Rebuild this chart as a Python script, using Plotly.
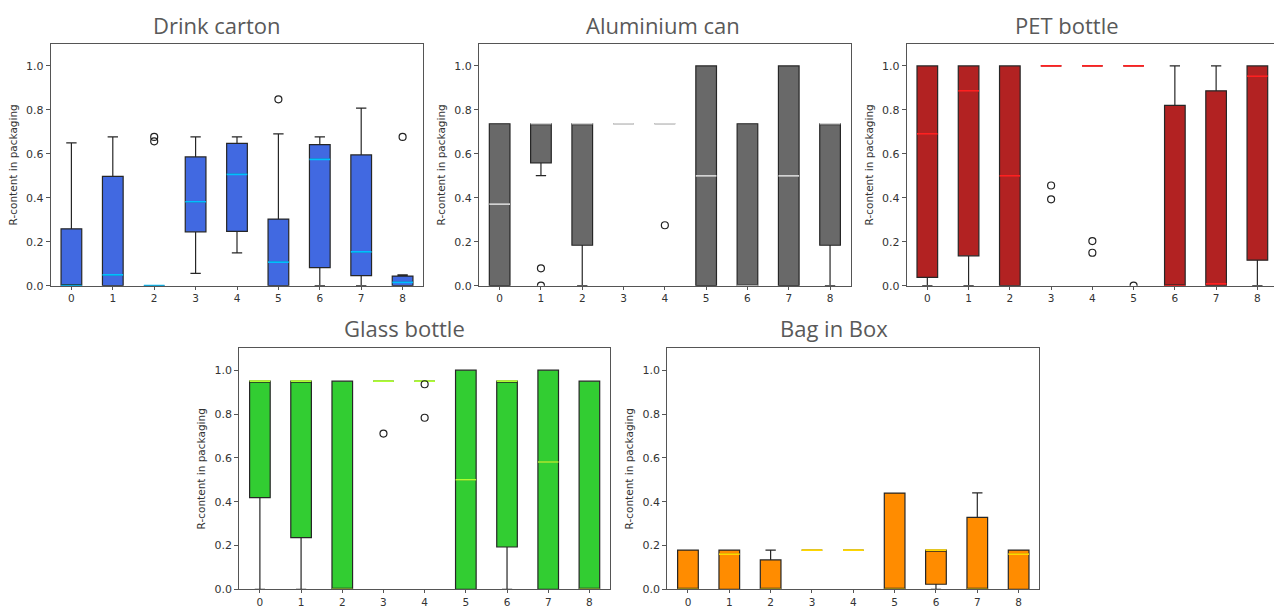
import plotly.graph_objects as go

cats = [0, 1, 2, 3, 4, 5, 6, 7, 8]
y_ticks = [0.0, 0.2, 0.4, 0.6, 0.8, 1.0]
y_label = "R-content in packaging"

titles = ["Drink carton", "Aluminium can", "PET bottle", "Glass bottle", "Bag in Box"]

# Drink carton
carton_q1 = [0.0, 0.0, 0.0, 0.245, 0.247, 0.0, 0.082, 0.046, 0.0]
carton_med = [0.0, 0.049, 0.0, 0.382, 0.507, 0.107, 0.575, 0.154, 0.015]
carton_q3 = [0.259, 0.498, 0.0, 0.586, 0.648, 0.303, 0.642, 0.595, 0.044]
carton_lo = [0.0, 0.0, 0.0, 0.056, 0.149, 0.0, 0.0, 0.0, 0.0]
carton_hi = [0.65, 0.677, 0.0, 0.677, 0.677, 0.691, 0.677, 0.808, 0.049]
carton_out_x = [2, 2, 5, 8]
carton_out_y = [0.677, 0.657, 0.848, 0.677]

# Aluminium can
alu_q1 = [0.0, 0.559, 0.184, 0.737, 0.737, 0.0, 0.0, 0.0, 0.184]
alu_med = [0.371, 0.737, 0.737, 0.737, 0.737, 0.5, 0.0, 0.5, 0.737]
alu_q3 = [0.737, 0.737, 0.737, 0.737, 0.737, 1.0, 0.737, 1.0, 0.737]
alu_lo = [0.0, 0.501, 0.0, 0.737, 0.737, 0.0, 0.0, 0.0, 0.0]
alu_hi = [0.737, 0.737, 0.737, 0.737, 0.737, 1.0, 0.737, 1.0, 0.737]
alu_out_x = [1, 1, 4]
alu_out_y = [0.079, 0.0, 0.275]

# PET bottle
pet_q1 = [0.038, 0.136, 0.0, 1.0, 1.0, 1.0, 0.0, 0.0, 0.116]
pet_med = [0.691, 0.887, 0.5, 1.0, 1.0, 1.0, 0.0, 0.008, 0.954]
pet_q3 = [1.0, 1.0, 1.0, 1.0, 1.0, 1.0, 0.821, 0.887, 1.0]
pet_lo = [0.0, 0.0, 0.0, 1.0, 1.0, 1.0, 0.0, 0.0, 0.0]
pet_hi = [1.0, 1.0, 1.0, 1.0, 1.0, 1.0, 1.0, 1.0, 1.0]
pet_out_x = [3, 3, 4, 4, 5]
pet_out_y = [0.456, 0.393, 0.203, 0.150, 0.0]

# Glass bottle
glass_q1 = [0.418, 0.236, 0.0, 0.95, 0.95, 0.0, 0.193, 0.0, 0.0]
glass_med = [0.95, 0.95, 0.0, 0.95, 0.95, 0.5, 0.95, 0.581, 0.0]
glass_q3 = [0.95, 0.95, 0.95, 0.95, 0.95, 1.0, 0.95, 1.0, 0.95]
glass_lo = [0.0, 0.0, 0.0, 0.95, 0.95, 0.0, 0.0, 0.0, 0.0]
glass_hi = [0.95, 0.95, 0.95, 0.95, 0.95, 1.0, 0.95, 1.0, 0.95]
glass_out_x = [3, 4, 4]
glass_out_y = [0.711, 0.936, 0.783]

# Bag in Box
bag_q1 = [0.0, 0.0, 0.0, 0.179, 0.179, 0.0, 0.023, 0.0, 0.0]
bag_med = [0.0, 0.161, 0.0, 0.179, 0.179, 0.0, 0.179, 0.0, 0.161]
bag_q3 = [0.179, 0.179, 0.134, 0.179, 0.179, 0.439, 0.179, 0.328, 0.179]
bag_lo = [0.0, 0.0, 0.0, 0.179, 0.179, 0.0, 0.0, 0.0, 0.0]
bag_hi = [0.179, 0.179, 0.179, 0.179, 0.179, 0.439, 0.179, 0.44, 0.179]
bag_out_x = []
bag_out_y = []

fill_colors = ["#4169E1", "#696969", "#B22222", "#32CD32", "#FF8C00"]
median_colors = ["#00BFFF", "#D3D3D3", "#FF2020", "#ADFF2F", "#FFD700"]

W, H = 1274, 608
# axes pixel boxes (left, right, top, bottom)
boxes_px = [
    (50.7, 423.3, 44, 285.7),
    (479, 850.7, 44, 285.7),
    (906.7, 1274, 44, 285.7),
    (239.3, 610, 348.3, 589.3),
    (667.3, 1039.3, 348.3, 589.3),
]
x_ranges = [[-0.5, 8.5], [-0.5, 8.5], [-0.5, 8.403], [-0.5, 8.5], [-0.5, 8.5]]
title_px = [(216.5, 25), (663, 25), (1067, 25), (405, 328), (834, 328)]

datasets = [
    (carton_q1, carton_med, carton_q3, carton_lo, carton_hi, carton_out_x, carton_out_y),
    (alu_q1, alu_med, alu_q3, alu_lo, alu_hi, alu_out_x, alu_out_y),
    (pet_q1, pet_med, pet_q3, pet_lo, pet_hi, pet_out_x, pet_out_y),
    (glass_q1, glass_med, glass_q3, glass_lo, glass_hi, glass_out_x, glass_out_y),
    (bag_q1, bag_med, bag_q3, bag_lo, bag_hi, bag_out_x, bag_out_y),
]

fig = go.Figure()
layout = dict(
    width=W, height=H, autosize=False,
    margin=dict(l=0, r=0, t=0, b=0, pad=0, autoexpand=False),
    paper_bgcolor="white", plot_bgcolor="white",
    showlegend=False, boxmode="overlay",
    font=dict(family="DejaVu Sans", color="#333333"),
)
annotations = []

for i, (q1, med, q3, lo, hi, ox, oy) in enumerate(datasets):
    n = "" if i == 0 else str(i + 1)
    xa, ya = "x" + n, "y" + n
    fig.add_trace(go.Box(
        x=cats, q1=q1, median=med, q3=q3, lowerfence=lo, upperfence=hi,
        width=0.5, whiskerwidth=0.5, fillcolor=fill_colors[i],
        line=dict(color="#262626", width=1.2), boxpoints=False,
        hoverinfo="skip", xaxis=xa, yaxis=ya,
    ))
    fig.add_trace(go.Box(
        x=cats, q1=med, median=med, q3=med, lowerfence=med, upperfence=med,
        width=0.5, whiskerwidth=0.5, fillcolor="rgba(0,0,0,0)",
        line=dict(color=median_colors[i], width=1.7), boxpoints=False,
        hoverinfo="skip", xaxis=xa, yaxis=ya,
    ))
    if ox:
        fig.add_trace(go.Scatter(
            x=ox, y=oy, mode="markers",
            marker=dict(symbol="circle-open", size=7, color="#222222", line=dict(width=1.2)),
            hoverinfo="skip", xaxis=xa, yaxis=ya,
        ))
    l, r, t, b = boxes_px[i]
    layout["xaxis" + n] = dict(
        domain=[l / W, min(r / W, 1.0)], range=x_ranges[i], anchor=ya,
        automargin=False,
        tickmode="array", tickvals=cats, ticktext=[str(c) for c in cats],
        showline=True, mirror=True, linecolor="#555555", linewidth=1,
        ticks="outside", ticklen=3, tickcolor="#555555",
        tickfont=dict(size=10.5, color="#333333"),
        showgrid=False, zeroline=False,
    )
    layout["yaxis" + n] = dict(
        domain=[1 - b / H, 1 - t / H], range=[0, 1.1], anchor=xa,
        automargin=False,
        tickmode="array", tickvals=y_ticks, ticktext=[f"{v:.1f}" for v in y_ticks],
        showline=True, mirror=True, linecolor="#555555", linewidth=1,
        ticks="outside", ticklen=4, tickcolor="#555555",
        tickfont=dict(size=11, color="#333333"),
        showgrid=False, zeroline=False,
        title=dict(text=y_label, font=dict(size=10.5, color="#333333"), standoff=6),
    )
    cx, cy = title_px[i]
    annotations.append(dict(
        text=titles[i], xref="paper", yref="paper", x=cx / W, y=1 - cy / H,
        xanchor="center", yanchor="middle", showarrow=False,
        font=dict(family="Open Sans", size=22, color="#595959"),
    ))

layout["annotations"] = annotations
fig.update_layout(**layout)
fig.write_html("out.html")
